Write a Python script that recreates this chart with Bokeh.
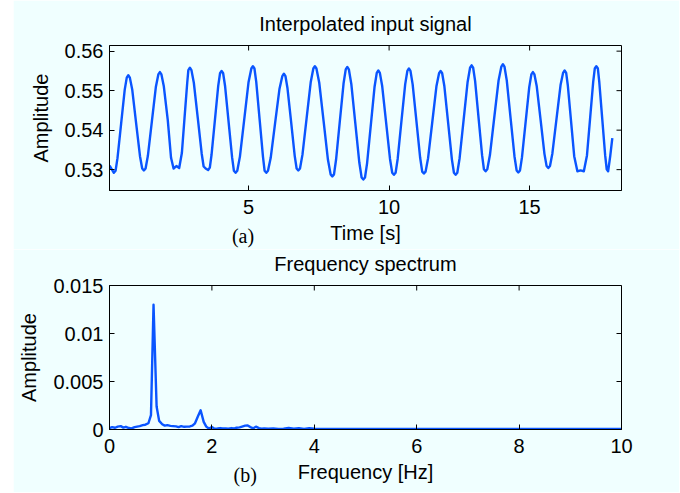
from math import pi
from bokeh.plotting import figure
from bokeh.layouts import column, row
from bokeh.models import Range1d, FixedTicker, LinearAxis, Spacer
from bokeh.embed import file_html
from bokeh.resources import INLINE

# ---------------- data ----------------
time_s = [0.053, 0.206, 0.266, 0.334, 0.463, 0.591, 0.664, 0.719, 0.774, 0.858,
          0.997, 1.135, 1.214, 1.274, 1.334, 1.416, 1.559, 1.701, 1.788, 1.843,
          1.898, 1.983, 2.123, 2.240, 2.330, 2.430, 2.530, 2.625, 2.720, 2.816,
          2.856, 2.911, 2.966, 3.051, 3.191, 3.330, 3.400, 3.470, 3.560, 3.620,
          3.680, 3.800, 3.919, 3.984, 4.039, 4.094, 4.164, 4.288, 4.413, 4.477,
          4.537, 4.597, 4.691, 4.845, 4.999, 5.098, 5.153, 5.208, 5.272, 5.392,
          5.511, 5.570, 5.630, 5.690, 5.787, 5.943, 6.100, 6.201, 6.256, 6.311,
          6.384, 6.513, 6.641, 6.709, 6.769, 6.829, 6.917, 7.064, 7.212, 7.304,
          7.359, 7.414, 7.514, 7.669, 7.824, 7.919, 7.979, 8.039, 8.112, 8.246,
          8.379, 8.457, 8.512, 8.567, 8.655, 8.797, 8.940, 9.022, 9.082, 9.142,
          9.216, 9.349, 9.483, 9.561, 9.616, 9.671, 9.755, 9.894, 10.032, 10.111,
          10.171, 10.231, 10.305, 10.438, 10.572, 10.650, 10.705, 10.760, 10.838, 10.972,
          11.105, 11.178, 11.238, 11.298, 11.387, 11.536, 11.684, 11.778, 11.833, 11.888,
          11.967, 12.100, 12.234, 12.307, 12.367, 12.427, 12.509, 12.652, 12.794, 12.881,
          12.936, 12.991, 13.061, 13.185, 13.310, 13.374, 13.434, 13.494, 13.588, 13.742,
          13.896, 13.995, 14.050, 14.105, 14.187, 14.324, 14.461, 14.538, 14.598, 14.658,
          14.728, 14.858, 14.987, 15.062, 15.117, 15.172, 15.254, 15.391, 15.528, 15.605,
          15.665, 15.725, 15.810, 15.956, 16.101, 16.191, 16.246, 16.301, 16.360, 16.473,
          16.587, 16.700, 16.815, 16.930, 17.041, 17.152, 17.263, 17.319, 17.374, 17.429,
          17.479, 17.584, 17.689, 17.744, 17.794, 17.870, 17.943]
signal = [0.5310, 0.5292, 0.5297, 0.5329, 0.5416, 0.5502, 0.5533, 0.5539, 0.5533, 0.5503,
          0.5418, 0.5334, 0.5303, 0.5298, 0.5303, 0.5335, 0.5423, 0.5510, 0.5541, 0.5547,
          0.5541, 0.5511, 0.5426, 0.5330, 0.5303, 0.5309, 0.5304, 0.5342, 0.5431, 0.5520,
          0.5552, 0.5558, 0.5552, 0.5520, 0.5431, 0.5341, 0.5308, 0.5303, 0.5299, 0.5305,
          0.5337, 0.5425, 0.5512, 0.5544, 0.5550, 0.5544, 0.5511, 0.5421, 0.5331, 0.5297,
          0.5292, 0.5297, 0.5333, 0.5427, 0.5522, 0.5556, 0.5562, 0.5556, 0.5522, 0.5427,
          0.5333, 0.5297, 0.5292, 0.5297, 0.5330, 0.5418, 0.5505, 0.5537, 0.5543, 0.5537,
          0.5506, 0.5421, 0.5335, 0.5303, 0.5298, 0.5303, 0.5338, 0.5430, 0.5522, 0.5556,
          0.5562, 0.5556, 0.5520, 0.5423, 0.5325, 0.5288, 0.5283, 0.5288, 0.5325, 0.5422,
          0.5518, 0.5554, 0.5560, 0.5554, 0.5517, 0.5418, 0.5318, 0.5280, 0.5275, 0.5280,
          0.5316, 0.5413, 0.5510, 0.5545, 0.5551, 0.5545, 0.5511, 0.5419, 0.5327, 0.5292,
          0.5287, 0.5292, 0.5327, 0.5422, 0.5516, 0.5550, 0.5556, 0.5550, 0.5516, 0.5423,
          0.5330, 0.5295, 0.5290, 0.5295, 0.5329, 0.5420, 0.5511, 0.5544, 0.5550, 0.5544,
          0.5511, 0.5419, 0.5326, 0.5292, 0.5287, 0.5292, 0.5329, 0.5426, 0.5522, 0.5558,
          0.5564, 0.5558, 0.5524, 0.5430, 0.5336, 0.5301, 0.5296, 0.5301, 0.5337, 0.5432,
          0.5526, 0.5561, 0.5567, 0.5561, 0.5526, 0.5430, 0.5334, 0.5298, 0.5293, 0.5298,
          0.5331, 0.5420, 0.5509, 0.5541, 0.5547, 0.5541, 0.5511, 0.5426, 0.5340, 0.5309,
          0.5304, 0.5309, 0.5341, 0.5428, 0.5514, 0.5545, 0.5551, 0.5545, 0.5513, 0.5424,
          0.5334, 0.5296, 0.5298, 0.5296, 0.5336, 0.5429, 0.5522, 0.5556, 0.5562, 0.5556,
          0.5522, 0.5429, 0.5336, 0.5301, 0.5296, 0.5335, 0.5380]

freq_hz = [0.00, 0.05, 0.11, 0.16, 0.22, 0.27, 0.32, 0.38, 0.43, 0.49,
           0.54, 0.59, 0.65, 0.70, 0.76, 0.81, 0.86, 0.92, 0.97, 1.03,
           1.08, 1.13, 1.19, 1.24, 1.30, 1.35, 1.40, 1.46, 1.51, 1.57,
           1.62, 1.67, 1.73, 1.78, 1.84, 1.89, 1.94, 2.00, 2.05, 2.11,
           2.16, 2.21, 2.27, 2.32, 2.38, 2.43, 2.48, 2.54, 2.59, 2.65,
           2.70, 2.75, 2.81, 2.86, 2.92, 2.97, 3.02, 3.10, 3.20, 3.30,
           3.40, 3.50, 3.60, 3.70, 3.80, 3.90, 4.00, 4.50, 5.00, 5.50,
           6.00, 6.50, 7.00, 7.50, 8.00, 8.50, 9.00, 9.50, 10.00]
spectrum = [0.00015, 0.00025, 0.00018, 0.00030, 0.00035, 0.00020, 0.00028, 0.00015, 0.00012, 0.00025,
            0.00030, 0.00035, 0.00045, 0.00050, 0.00065, 0.00150, 0.01300, 0.00240, 0.00090, 0.00055,
            0.00040, 0.00045, 0.00038, 0.00035, 0.00032, 0.00025, 0.00035, 0.00028, 0.00030, 0.00032,
            0.00040, 0.00065, 0.00140, 0.00200, 0.00080, 0.00030, 0.00010, 0.00025, 0.00008, 0.00010,
            0.00015, 0.00010, 0.00012, 0.00008, 0.00015, 0.00010, 0.00018, 0.00022, 0.00030, 0.00040,
            0.00042, 0.00025, 0.00012, 0.00030, 0.00015, 0.00008, 0.00012, 0.00008, 0.00010, 0.00007,
            0.00008, 0.00015, 0.00008, 0.00014, 0.00007, 0.00013, 0.00008, 0.00006, 0.00005, 0.00005,
            0.00005, 0.00005, 0.00005, 0.00005, 0.00005, 0.00005, 0.00005, 0.00005, 0.00005]

top_title = "Interpolated input signal"
top_xlabel = "Time [s]"
bot_title = "Frequency spectrum"
bot_xlabel = "Frequency [Hz]"
ylabel = "Amplitude"
top_xticks = [5, 10, 15]
top_yticks = [0.53, 0.54, 0.55, 0.56]
top_ylabels = ["0.53", "0.54", "0.55", "0.56"]
bot_xticks = [0, 2, 4, 6, 8, 10]
bot_yticks = [0, 0.005, 0.01, 0.015]
bot_ylabels = ["0", "0.005", "0.01", "0.015"]
top_xlim = (0.05, 18.27)
top_ylim = (0.52472, 0.56143)
bot_xlim = (0, 10)
bot_ylim = (0, 0.015)

# ---------------- styling ----------------
BG = "#F0FFFF"
BLUE = "#0A55FF"
FONT = "Liberation Sans"
SERIF = "Liberation Serif"
FS = "20px"


def base_axis(ax, ticks):
    ax.ticker = FixedTicker(ticks=ticks)
    ax.major_tick_in = 5
    ax.major_tick_out = 0
    ax.minor_tick_line_color = None
    ax.axis_line_color = "black"
    ax.major_tick_line_color = "black"
    ax.major_label_text_font = FONT
    ax.major_label_text_font_size = FS
    ax.major_label_text_color = "black"
    ax.axis_label_text_font = FONT
    ax.axis_label_text_font_size = FS
    ax.axis_label_text_font_style = "normal"
    ax.axis_label_text_color = "black"


def build(height, xlim, ylim, bl, br, bt, bb, title, title_gap, xlabel, xticks, yticks,
          ylabels, tag, tag_x, xs, ys):
    p = figure(width=666, height=height, x_range=Range1d(*xlim), y_range=Range1d(*ylim),
               output_backend="svg", toolbar_location=None,
               min_border_left=bl, min_border_right=br,
               min_border_top=bt, min_border_bottom=bb,
               background_fill_color=BG, border_fill_color=BG)
    p.grid.visible = False
    p.outline_line_color = "black"
    p.line(xs, ys, line_color=BLUE, line_width=2.4, line_join="round")

    xa = p.xaxis[0]
    base_axis(xa, xticks)
    xa.axis_label = xlabel
    xa.major_label_standoff = 9
    xa.axis_label_standoff = 5

    ya = p.yaxis[0]
    base_axis(ya, yticks)
    ya.major_label_overrides = {t: l for t, l in zip(yticks, ylabels)}
    ya.axis_label = ylabel
    ya.major_label_standoff = 6
    ya.axis_label_standoff = 10

    # title as the label of a tick-less axis above the frame
    ta = LinearAxis(ticker=FixedTicker(ticks=[]))
    base_axis(ta, [])
    ta.axis_line_color = None
    ta.major_label_standoff = 0
    ta.axis_label = title
    ta.axis_label_standoff = title_gap
    p.add_layout(ta, "above")

    # (a)/(b) tag on the same row as the x-axis label
    ga = LinearAxis(ticker=FixedTicker(ticks=[tag_x]))
    base_axis(ga, [tag_x])
    ga.axis_line_color = None
    ga.major_tick_line_color = None
    ga.major_tick_in = 0
    ga.major_label_text_font = SERIF
    ga.major_label_overrides = {tag_x: tag}
    ga.major_label_standoff = -22
    p.add_layout(ga, "below")

    # inward ticks mirrored on top and right edges of the box
    p.ray(x=xticks, y=[ylim[1]] * len(xticks), length=5, length_units="screen",
          angle=-pi / 2, line_color="black", line_width=1)
    p.ray(x=[xlim[1]] * len(yticks), y=yticks, length=5, length_units="screen",
          angle=pi, line_color="black", line_width=1)
    return p


p1 = build(249, top_xlim, top_ylim, 96, 58, 45, 58, top_title, 11, top_xlabel,
           top_xticks, top_yticks, top_ylabels, "(a)", 4.8, time_s, signal)
p2 = build(243, bot_xlim, bot_ylim, 96, 57, 35, 63, bot_title, 11, bot_xlabel,
           bot_xticks, bot_yticks, bot_ylabels, "(b)", 2.65, freq_hz, spectrum)

layout = row(Spacer(width=13, height=492), column(p1, p2))

with open("out.html", "w") as f:
    f.write(file_html(layout, INLINE))
